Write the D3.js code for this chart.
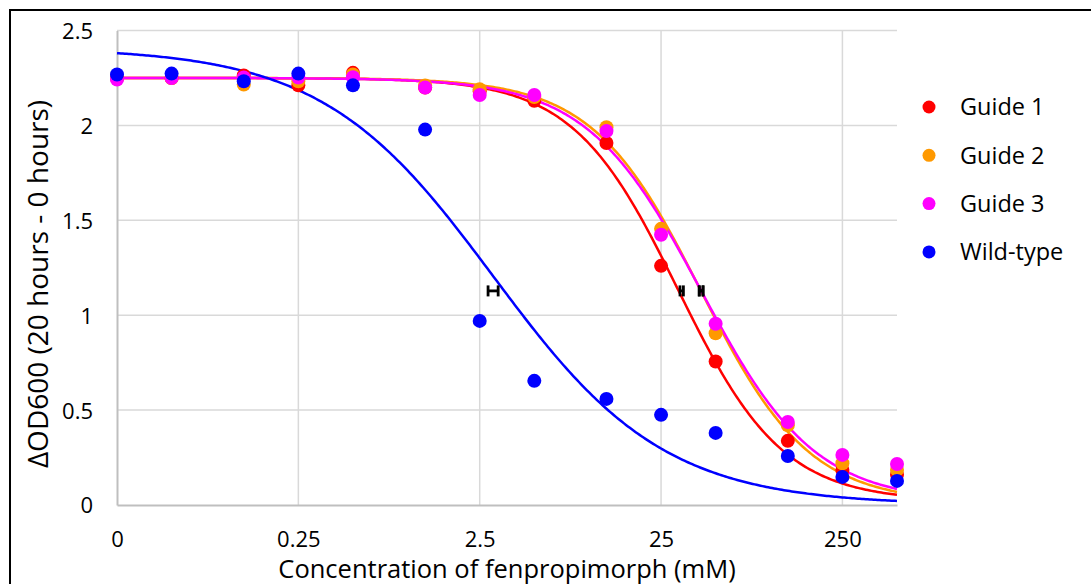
<!DOCTYPE html>
<html>
<head>
<meta charset="utf-8">
<script src="https://cdn.jsdelivr.net/npm/d3@7"></script>
<style>
  html, body { margin: 0; padding: 0; background: #fff; }
  svg { display: block; }
  text { font-family: "Open Sans", "Noto Sans", sans-serif; fill: #000; }
</style>
</head>
<body>
<svg id="chart" width="1091" height="584"></svg>
<script>
// ---------------- DATA ----------------
const seriesNames = ["Guide 1", "Guide 2", "Guide 3", "Wild-type"];
const seriesColors = ["#ff0000", "#ff9900", "#ff00ff", "#0000ff"];
// concentrations (mM); "0" is drawn at the position of zeroPosition on the log axis
const concentrations = [0, 0.05, 0.125, 0.25, 0.5, 1.25, 2.5, 5, 12.5, 25, 50, 125, 250, 500];
const zeroPosition = 0.025;
const guide1 = [2.25, 2.25, 2.263, 2.211, 2.277, 2.20, 2.18, 2.13, 1.907, 1.26, 0.756, 0.338, 0.185, 0.16];
const guide2 = [2.25, 2.25, 2.215, 2.233, 2.268, 2.21, 2.19, 2.15, 1.99, 1.455, 0.905, 0.42, 0.22, 0.185];
const guide3 = [2.242, 2.25, 2.252, 2.252, 2.254, 2.20, 2.16, 2.16, 1.97, 1.424, 0.955, 0.437, 0.264, 0.216];
const wildType = [2.268, 2.273, 2.233, 2.273, 2.211, 1.978, 0.97, 0.654, 0.559, 0.475, 0.38, 0.258, 0.148, 0.127];
// fitted dose-response curves (4-parameter logistic)
const curveTop = [2.25, 2.25, 2.25, 2.41];
const curveBottom = [0.02, 0.01, 0.015, 0];
const curveEC50 = [31, 41.4, 41.4, 2.97];
const curveHill = [1.5, 1.45, 1.38, 0.92];
// EC50 markers with horizontal error bars
const ec50Lo = [31.8, 40.6, 40.6, 2.78];
const ec50Hi = [33.2, 42.6, 42.6, 3.16];
const ec50Y = 1.128;
// axis ticks
const xTickValues = [0.025, 0.25, 2.5, 25, 250];
const xTickLabels = ["0", "0.25", "2.5", "25", "250"];
const yTickValues = [0, 0.5, 1, 1.5, 2, 2.5];
const yTickLabels = ["0", "0.5", "1", "1.5", "2", "2.5"];
const xTitle = "Concentration of fenpropimorph (mM)";
const yTitle = "ΔOD600 (20 hours - 0 hours)";

// ---------------- LAYOUT ----------------
const svg = d3.select("#chart");
const plot = { left: 117, right: 897, top: 30.5, bottom: 505 };

const x = d3.scaleLog().domain([0.025, 500]).range([plot.left, plot.right]);
const y = d3.scaleLinear().domain([0, 2.5]).range([plot.bottom, plot.top]);
const xPos = c => x(c === 0 ? zeroPosition : c);

// outer frame
svg.append("rect").attr("x", 10).attr("y", 10).attr("width", 1200).attr("height", 700)
  .attr("fill", "none").attr("stroke", "#000").attr("stroke-width", 2);

// gridlines
const grid = svg.append("g");
grid.selectAll("line.h").data(yTickValues.slice(1)).join("line")
  .attr("x1", plot.left).attr("x2", plot.right)
  .attr("y1", d => y(d)).attr("y2", d => y(d))
  .attr("stroke", "#d9d9d9").attr("stroke-width", 1.5);
grid.selectAll("line.v").data(xTickValues.slice(1)).join("line")
  .attr("x1", d => x(d)).attr("x2", d => x(d))
  .attr("y1", plot.top).attr("y2", plot.bottom)
  .attr("stroke", "#d9d9d9").attr("stroke-width", 1.5);

// axes
const xAxis = d3.axisBottom(x).tickValues(xTickValues).tickFormat((d, i) => xTickLabels[i]).tickSize(0).tickPadding(0);
const yAxis = d3.axisLeft(y).tickValues(yTickValues).tickFormat((d, i) => yTickLabels[i]).tickSize(0).tickPadding(0);

const gx = svg.append("g").attr("transform", `translate(0,${plot.bottom})`).call(xAxis);
gx.select(".domain").attr("stroke", "#bfbfbf").attr("stroke-width", 2);
gx.selectAll("text").attr("y", 42).attr("dy", 0).style("font-size", "22px")
  .style("font-family", '"Open Sans", sans-serif').attr("fill", "#000");

const gy = svg.append("g").attr("transform", `translate(${plot.left},0)`).call(yAxis);
gy.select(".domain").attr("stroke", "#bfbfbf").attr("stroke-width", 2);
gy.selectAll("text").attr("x", -24).attr("dy", "0.36em").style("font-size", "22px")
  .style("font-family", '"Open Sans", sans-serif').attr("fill", "#000");

// axis titles
svg.append("text").attr("x", (plot.left + plot.right) / 2).attr("y", 578)
  .attr("text-anchor", "middle").style("font-size", "25.5px").text(xTitle);
svg.append("text").attr("transform", `translate(48,284) rotate(-90)`)
  .attr("text-anchor", "middle").style("font-size", "28px").text(yTitle);

// curves
const allSeries = [guide1, guide2, guide3, wildType];
const curveSamples = d3.range(0, 401).map(i => Math.pow(10, Math.log10(0.025) + i / 400 * (Math.log10(500) - Math.log10(0.025))));
const line = d3.line().x(d => x(d[0])).y(d => y(d[1])).curve(d3.curveLinear);
seriesNames.forEach((name, s) => {
  const pts = curveSamples.map(c => [c, curveBottom[s] + (curveTop[s] - curveBottom[s]) / (1 + Math.pow(c / curveEC50[s], curveHill[s]))]);
  svg.append("path").datum(pts).attr("d", line)
    .attr("fill", "none").attr("stroke", seriesColors[s]).attr("stroke-width", 2.5);
});

// EC50 markers
const eg = svg.append("g").attr("stroke", "#000").attr("stroke-width", 2.8);
seriesNames.forEach((name, s) => {
  const x0 = x(ec50Lo[s]), x1 = x(ec50Hi[s]), yy = y(ec50Y);
  eg.append("line").attr("x1", x0).attr("x2", x1).attr("y1", yy).attr("y2", yy);
  eg.append("line").attr("x1", x0).attr("x2", x0).attr("y1", yy - 5.5).attr("y2", yy + 5.5);
  eg.append("line").attr("x1", x1).attr("x2", x1).attr("y1", yy - 5.5).attr("y2", yy + 5.5);
});

// points
seriesNames.forEach((name, s) => {
  svg.append("g").selectAll("circle").data(allSeries[s]).join("circle")
    .attr("cx", (d, i) => xPos(concentrations[i]))
    .attr("cy", d => y(d))
    .attr("r", 7)
    .attr("fill", seriesColors[s]);
});

// legend
const legend = svg.append("g");
seriesNames.forEach((name, s) => {
  const ly = 107 + s * 48.3;
  legend.append("circle").attr("cx", 929).attr("cy", ly).attr("r", 6.5).attr("fill", seriesColors[s]);
  legend.append("text").attr("x", 960).attr("y", ly).attr("dy", "0.36em")
    .style("font-size", "23.5px").text(name);
});
</script>
</body>
</html>
